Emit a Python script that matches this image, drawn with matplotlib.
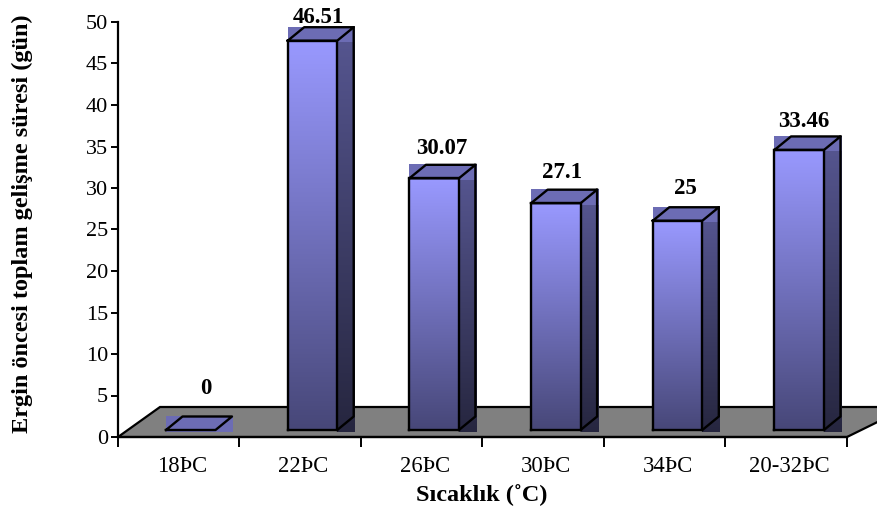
import numpy as np
import matplotlib
matplotlib.use("Agg")
import matplotlib.pyplot as plt
from matplotlib.colors import LinearSegmentedColormap
from matplotlib.patches import Polygon

categories = ["18ÞC", "22ÞC", "26ÞC", "30ÞC", "34ÞC", "20-32ÞC"]
values = [0, 46.51, 30.07, 27.1, 25, 33.46]
value_labels = ["0", "46.51", "30.07", "27.1", "25", "33.46"]
y_ticks = list(range(0, 55, 5))

plt.rcParams["font.family"] = ["Liberation Serif", "DejaVu Sans"]

W, H = 878, 512
fig = plt.figure(figsize=(W / 100, H / 100), dpi=100)
ax = fig.add_axes([118 / W, (H - 437) / H, (847 - 118) / W, (437 - 22) / H])
ax.set_xlim(0, 6)
ax.set_ylim(0, 50)

# one data unit in pixels, used to size the 3d offsets
ux = (847 - 118) / 6
uy = (437 - 22) / 50

front_cmap = LinearSegmentedColormap.from_list("front", ["#9999ff", "#474778"])
side_cmap = LinearSegmentedColormap.from_list("side", ["#55558f", "#26263f"])
ramp = np.linspace(0, 1, 256).reshape(-1, 1)

base = 7 / uy          # front edge of the bars above the axis line
scale = 8.37 / uy      # bars are drawn on the slightly larger front plane
bar_w = 49.5 / ux
dx = 16.5 / ux
dy = 13.5 / uy
first = 48 / ux
step = 121.7 / ux

# floor of the 3d box
floor = Polygon([(0, 0), (42 / ux, 30 / uy), (790 / ux, 30 / uy), (6, 0)],
                closed=True, facecolor="#808080", edgecolor="black",
                linewidth=1.6, clip_on=False, zorder=1)
ax.add_patch(floor)

label_dx = [15, 6, 8, 6, 8, 5]

for i, v in enumerate(values):
    x0 = first + step * i
    x1 = x0 + bar_w
    y0 = base
    y1 = base + v * scale

    # side face, its backing rectangle runs past the base
    if v > 0:
        im = ax.imshow(ramp, cmap=side_cmap, aspect="auto", zorder=2,
                       extent=(x1, x1 + dx + 1.5 / ux, y0 - 2 / uy, y1))
        im.set_clip_on(False)
    # top face backing
    ax.fill([x0, x1 + dx + 1.5 / ux, x1 + dx + 1.5 / ux, x0],
            [y1 - 1.5 / uy, y1 - 1.5 / uy, y1 + dy + 0.5 / uy, y1 + dy + 0.5 / uy],
            color="#6c6cb4", lw=0, zorder=3, clip_on=False)
    # front face
    if v > 0:
        im = ax.imshow(ramp, cmap=front_cmap, aspect="auto", zorder=4,
                       extent=(x0, x1, y0, y1))
        im.set_clip_on(False)
        ax.plot([x0, x1, x1, x0, x0], [y0, y0, y1, y1, y0], color="black",
                lw=1.7, zorder=5, clip_on=False, solid_joinstyle="miter")
        ax.plot([x1, x1 + dx, x1 + dx], [y0, y0 + dy, y1 + dy], color="black",
                lw=1.7, zorder=5, clip_on=False)
    ax.plot([x0, x0 + dx, x1 + dx, x1, x0], [y1, y1 + dy, y1 + dy, y1, y1],
            color="black", lw=1.7, zorder=5, clip_on=False)

    # value labels follow the bar height in a straight line
    ly = (437 - (388 - 7.97 * v)) / uy
    ax.text(x0 + bar_w / 2 + label_dx[i] / ux, ly, value_labels[i],
            ha="center", va="center", fontsize=16.5, fontweight="bold",
            zorder=6, clip_on=False)

ax.set_xlim(0, 6)
ax.set_ylim(0, 50)

ax.set_yticks(y_ticks)
ax.set_xticks(range(7))
ax.set_xticklabels([])
# category names sit a little right of the slot centres
ax.set_xticks(np.arange(6) + 0.5 + 3 / ux, categories, minor=True)
ax.tick_params(axis="x", which="major", direction="out", length=7, width=1.4)
ax.tick_params(axis="x", which="minor", length=0, pad=14, labelsize=16.3)
ax.tick_params(axis="y", direction="out", length=5, width=1.4, labelsize=16, pad=2)

for s in ["top", "right"]:
    ax.spines[s].set_visible(False)
for s in ["left", "bottom"]:
    ax.spines[s].set_linewidth(1.6)
    ax.spines[s].set_zorder(7)

fig.text(22 / W, 1 - 224 / H, "Ergin öncesi toplam gelişme süresi (gün)", rotation=90,
         ha="center", va="center", fontsize=17.5, fontweight="bold")
fig.text(482 / W, 1 - 495 / H, "Sıcaklık (˚C)", ha="center", va="center",
         fontsize=17.5, fontweight="bold")

fig.savefig("out.png", dpi=100)
